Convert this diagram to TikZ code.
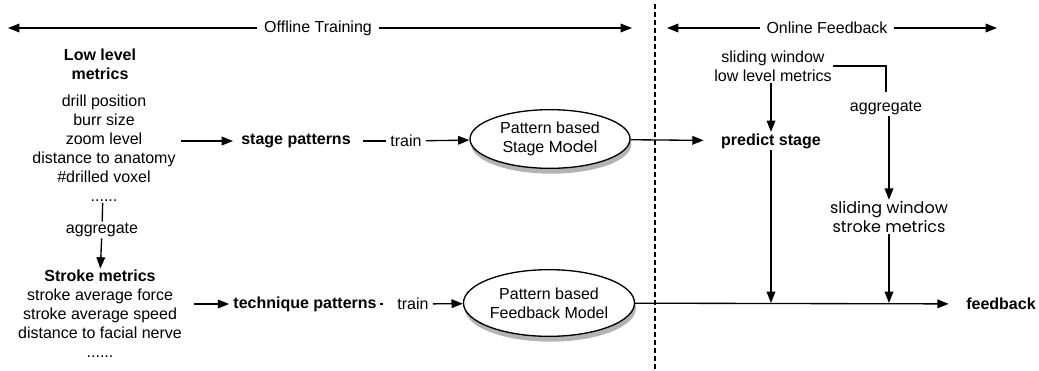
\documentclass[tikz,border=0pt]{standalone}
\usepackage{fontspec}
\setmainfont{Liberation Sans}
\newfontfamily\geofont{Poppins}
\usetikzlibrary{arrows.meta, shadows, shapes.geometric, positioning}
\tikzset{
  >={Triangle[length=8.5pt,width=6.5pt]},
  % Testi
  label txt/.style={inner sep=1pt, align=center, font=\fontsize{12}{14.25}\selectfont},
  label bold/.style={label txt, font=\fontsize{12}{14.25}\selectfont\bfseries},
  label head/.style={label txt, inner xsep=5pt},
  % Modelli
  model/.style={ellipse, draw, line width=1pt, fill=white, inner sep=0pt,
    label txt, drop shadow={shadow xshift=1pt, shadow yshift=-4pt, fill=black!75, opacity=0.4}},
  % Connessioni
  connect/.style={line width=1pt},
  connect arrow/.style={->, line width=1pt}
}

\begin{document}
\begin{tikzpicture}[x=0.75pt, y=-0.75pt]
    \useasboundingbox (0,0) rectangle (1039,371);
    % intestazioni
    \node[label head] (Offline) at (318,28) {Offline Training};
    \node[label head] (Online)  at (827,28) {Online Feedback};
    \coordinate (OffL) at (8,28);
    \coordinate (OffR) at (632,28);
    \coordinate (OnL)  at (667,28);
    \coordinate (OnR)  at (997,28);
    \coordinate (DivT) at (655,4);
    \coordinate (DivB) at (655,371);
    \draw[connect arrow] (Offline.west) -- (OffL);
    \draw[connect arrow] (Offline.east) -- (OffR);
    \draw[connect arrow] (Online.west)  -- (OnL);
    \draw[connect arrow] (Online.east)  -- (OnR);
    \draw[line width=0.8pt, dash pattern=on 3.5pt off 2.5pt] (DivT) -- (DivB);
    % metriche
    \node[label bold] (LowHead)  at (100,64)  {Low level\\metrics};
    \node[label txt]  (LowList)  at (104,148) {drill position\\burr size\\zoom level\\distance to anatomy\\\#drilled voxel\\......};
    \node[label txt]  (AggLow)   at (102,230) {aggregate};
    \node[label bold] (StrHead)  at (100,276) {Stroke metrics};
    \node[label txt]  (StrList)  at (100,323) {stroke average force\\stroke average speed\\distance to facial nerve\\......};
    % pattern e modelli
    \node[label bold] (StagePat) at (296,141) {stage patterns};
    \node[label txt]  (Train1)   at (406,141) {train};
    \node[model, minimum width=120pt, minimum height=44pt] (StageMod) at (550,139) {Pattern based\\Stage {\geofont Model}};
    \node[label bold] (TechPat)  at (305,304) {technique patterns};
    \node[label txt]  (Train2)   at (413,304) {train};
    \node[model, minimum width=126pt, minimum height=50pt] (FbMod) at (549,303) {Pattern based\\Feedback Model};
    % feedback online
    \node[label txt]  (SwLow)    at (773,66)  {sliding window\\low level metrics};
    \node[label txt]  (AggOn)    at (886,108) {aggregate};
    \node[label txt, font=\fontsize{12}{14.25}\geofont] (SwStroke) at (889,217) {sliding window\\stroke metrics};
    \node[label bold] (Predict)  at (771,141) {predict stage};
    \node[label bold] (Feedback) at (1001,304) {feedback};
    % frecce
    \draw[connect] (LowList) -- (AggLow);
    \draw[connect arrow] (AggLow) -- (StrHead);
    \draw[connect arrow, shorten <=3pt, shorten >=5pt] (LowList.east |- StagePat) -- (StagePat);
    \draw[connect, shorten <=8pt, shorten >=2pt] (StagePat) -- (Train1);
    \draw[connect arrow, shorten <=2pt] (Train1) -- (StageMod);
    \draw[connect arrow, shorten >=12pt] (StageMod) -- (Predict);
    \draw[connect arrow, shorten <=8pt, shorten >=2pt] (StrList.east |- TechPat) -- (TechPat);
    \draw[connect, shorten <=1pt, shorten >=10pt] (TechPat) -- (Train2);
    \draw[connect arrow, shorten <=2pt] (Train2) -- (FbMod);
    \draw[connect arrow] (SwLow.south -| Predict) -- (Predict);
    \draw[connect, shorten >=6pt] (SwLow.east) -| (AggOn.north);
    \draw[connect arrow] (AggOn.south -| SwStroke) -- (SwStroke);
    \draw[connect arrow] (Predict) -- (Predict |- FbMod);
    \draw[connect arrow] (SwStroke) -- (SwStroke |- FbMod);
    \draw[connect arrow, shorten >=12pt] (FbMod) -- (Feedback);
\end{tikzpicture}
\end{document}
